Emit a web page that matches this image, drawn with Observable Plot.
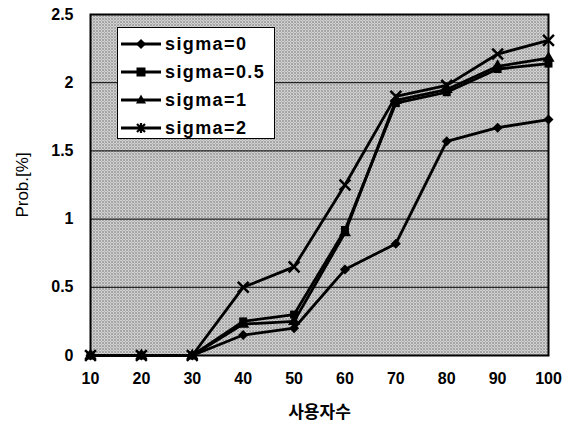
<!DOCTYPE html>
<html><head><meta charset="utf-8">
<script src="https://cdn.jsdelivr.net/npm/d3@7"></script>
<script src="https://cdn.jsdelivr.net/npm/@observablehq/plot@0.6"></script>
<style>
body{margin:0;background:#fff;}
#wrap{position:relative;width:571px;height:428px;font-family:"Liberation Sans",Arial,sans-serif;}
#legend{position:absolute;left:117px;top:27px;width:158px;height:112px;background:#fff;border:1.5px solid #000;box-sizing:border-box;}
.item{position:absolute;left:3px;height:24px;display:flex;align-items:center;font-weight:bold;font-size:18px;letter-spacing:1.4px;}
.item svg{margin-right:4px;}
</style></head>
<body><div id="wrap"><div id="legend"></div></div>
<script>
const users = [10, 20, 30, 40, 50, 60, 70, 80, 90, 100];
const seriesNames = ["sigma=0", "sigma=0.5", "sigma=1", "sigma=2"];
const sigma0  = [0, 0, 0, 0.15, 0.20, 0.63, 0.82, 1.57, 1.67, 1.73];
const sigma05 = [0, 0, 0, 0.25, 0.30, 0.92, 1.85, 1.93, 2.10, 2.14];
const sigma1  = [0, 0, 0, 0.23, 0.25, 0.90, 1.87, 1.95, 2.12, 2.18];
const sigma2  = [0, 0, 0, 0.50, 0.65, 1.25, 1.90, 1.98, 2.21, 2.31];
const yTicks = [0, 0.5, 1, 1.5, 2, 2.5];
const symbols = ["diamond2", "square", "triangle", "times"];

const allSeries = [sigma0, sigma05, sigma1, sigma2];
const data = [];
allSeries.forEach((vals, si) => users.forEach((u, i) => data.push({users: u, prob: vals[i], series: seriesNames[si]})));

const chart = Plot.plot({
  width: 571, height: 428,
  marginLeft: 90, marginRight: 23, marginTop: 14, marginBottom: 73,
  style: {fontFamily: "'Liberation Sans', Arial, sans-serif", fontSize: "16px", fontWeight: "bold", color: "#000", background: "transparent"},
  x: {domain: [10, 100], ticks: users, tickSize: 0, tickPadding: 17, label: "사용자수", labelArrow: false, labelAnchor: "center", labelOffset: 62},
  y: {domain: [0, 2.5], ticks: yTicks, tickSize: 0, tickPadding: 17, tickFormat: d => String(d), label: "Prob.[%]", labelArrow: false, labelAnchor: "center", labelOffset: 75},
  symbol: {domain: seriesNames, range: symbols},
  marks: [
    Plot.frame({fill: "#bbb", className: "bgframe"}),
    Plot.gridY(yTicks.filter(d => d > 0 && d < 2.5), {stroke: "#000", strokeOpacity: 1, strokeWidth: 1}),
    Plot.line(data, {x: "users", y: "prob", z: "series", stroke: "#000", strokeWidth: 2.8}),
    Plot.dot(data.filter(d => d.series !== "sigma=2"), {x: "users", y: "prob", symbol: "series", fill: "#000", r: 4.5}),
    Plot.dot(data.filter(d => d.series === "sigma=2"), {x: "users", y: "prob", symbol: "series", stroke: "#000", strokeWidth: 2.5, r: 5}),
    Plot.frame({stroke: "#000", strokeWidth: 2})
  ]
});

// stipple pattern background
const ns = "http://www.w3.org/2000/svg";
const defs = document.createElementNS(ns, "defs");
defs.innerHTML = '<pattern id="stip" width="3" height="3" patternUnits="userSpaceOnUse"><rect width="3" height="3" fill="#fff"/><rect x="0" y="0" width="1.1" height="1.1" fill="#000"/><rect x="1.5" y="1.5" width="1.1" height="1.1" fill="#000"/></pattern>';
chart.insertBefore(defs, chart.firstChild);
const bg = chart.querySelector(".bgframe rect, rect.bgframe, g.bgframe rect") || chart.querySelector("[aria-label=frame]");
if (bg) bg.setAttribute("fill", "url(#stip)");
// label cleanup / fonts
chart.querySelectorAll("text").forEach(t => {
  t.textContent = t.textContent.replace(/\s*[→↑←↓]\s*/g, "");
  if (t.textContent === "사용자수") { t.style.fontFamily = "'Noto Sans CJK KR', sans-serif"; t.style.fontSize = "17px"; }
  if (t.textContent === "Prob.[%]") { t.style.fontSize = "17px"; t.style.fontWeight = "normal"; }
});

document.getElementById("wrap").insertBefore(chart, document.getElementById("legend"));
chart.style.position = "absolute"; chart.style.left = "0"; chart.style.top = "0";

// legend
const leg = document.getElementById("legend");
const symPaths = {
  "diamond2": '<path d="M20,5 L25,10 L20,15 L15,10 Z" fill="#000"/>',
  "square": '<rect x="15.5" y="5.5" width="9" height="9" fill="#000"/>',
  "triangle": '<path d="M20,4.5 L25,13.5 L15,13.5 Z" fill="#000"/>',
  "times": '<path d="M16,6 L24,14 M24,6 L16,14 M20,5 L20,15" stroke="#000" stroke-width="2.2"/>'
};
seriesNames.forEach((name, i) => {
  const div = document.createElement("div");
  div.className = "item";
  div.style.top = (4 + i * 28) + "px";
  div.innerHTML = '<svg width="40" height="20"><line x1="0" y1="10" x2="40" y2="10" stroke="#000" stroke-width="2.8"/>' + symPaths[symbols[i]] + '</svg><span>' + name + '</span>';
  leg.appendChild(div);
});
</script></body></html>
